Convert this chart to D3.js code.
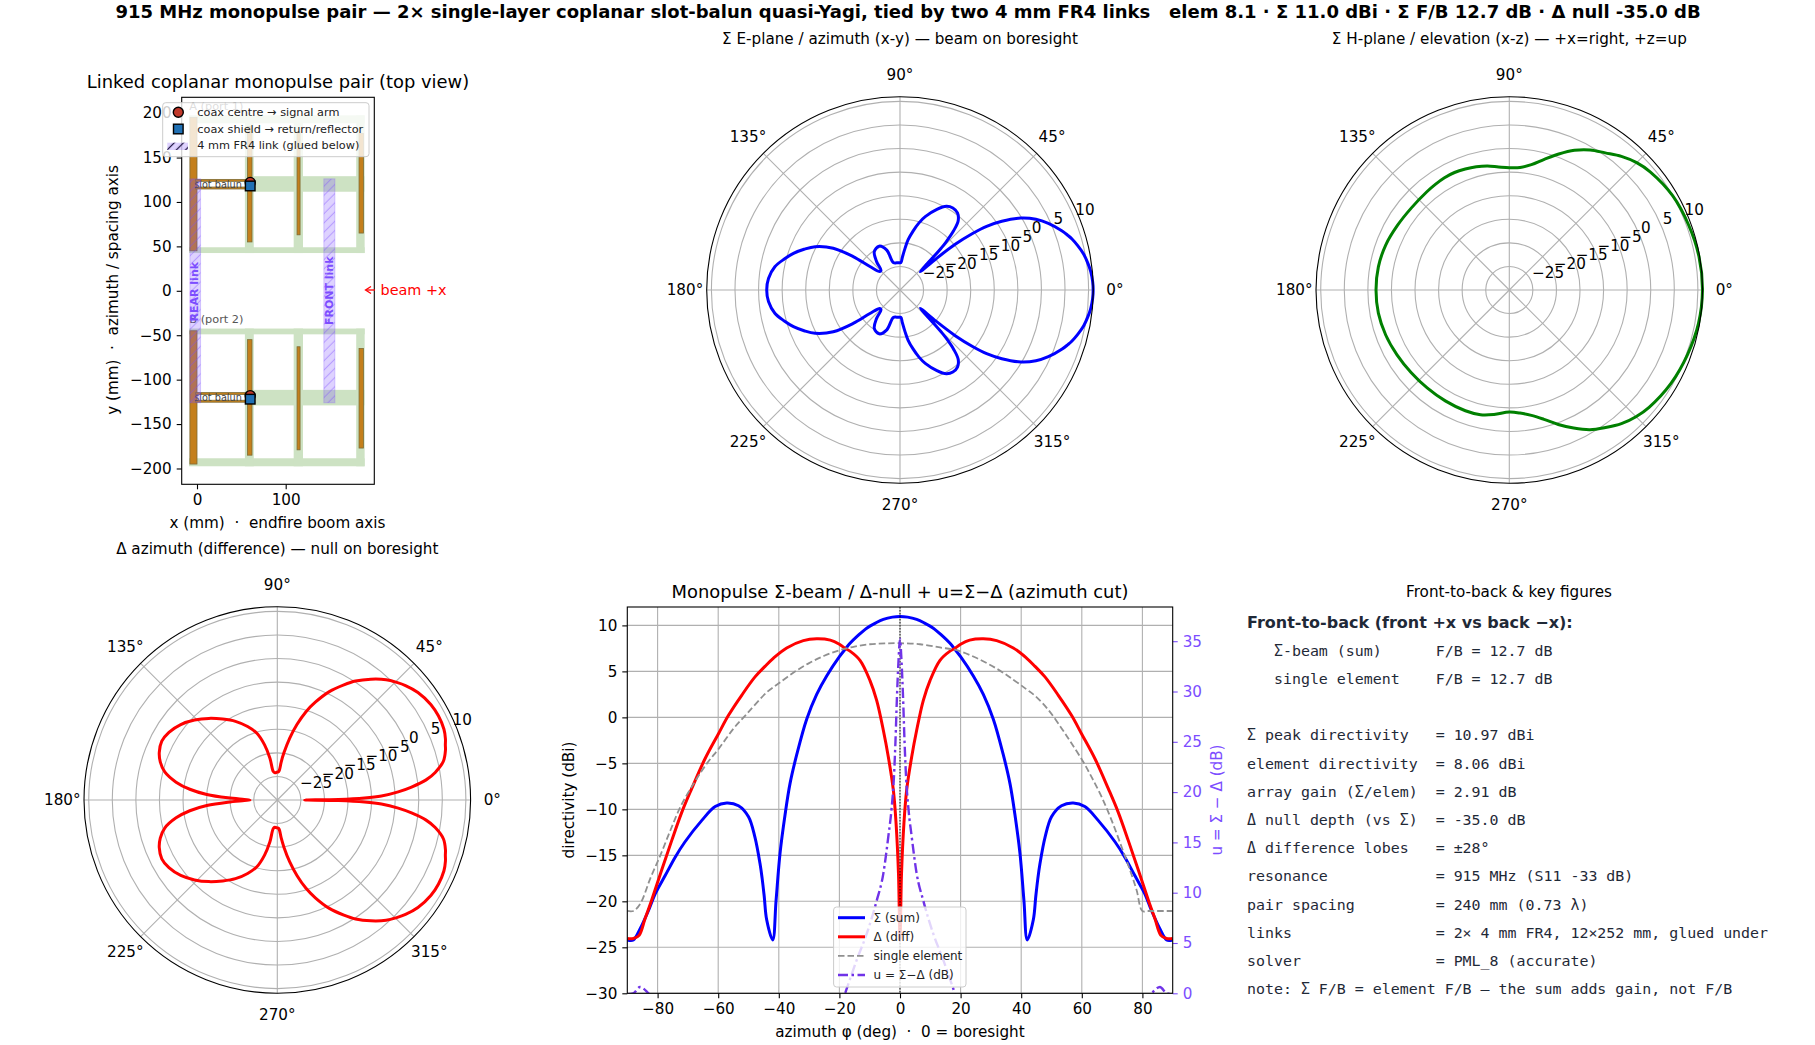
<!DOCTYPE html>
<html>
<head>
<meta charset="utf-8">
<script src="https://cdn.jsdelivr.net/npm/d3@7"></script>
<style>
  html, body { margin: 0; padding: 0; background: #fff; }
  text { font-family: "DejaVu Sans", sans-serif; fill: #000; }
  .grid line, .grid circle { stroke: #b0b0b0; stroke-width: 1.1; fill: none; }
  .domain { stroke: #000; stroke-width: 1.1; }
  .tick line { stroke: #000; stroke-width: 1.1; }
  .tick text { font-size: 15.2px; }
  .mono { font-family: "DejaVu Sans Mono", monospace; font-size: 14.93px; fill: #1f2937; white-space: pre; }
</style>
</head>
<body>
<svg id="chart" width="1815" height="1045"></svg>
<script>
// sum pattern, upper half of the azimuth cut (the cut is mirrored about 0)
const sumPhi = [0, 2.5, 5.5, 8, 11, 14, 16.5, 18, 20, 24.2, 27.5, 30.8, 34, 36.3, 37.9, 39.6, 40.9, 42, 44, 44.8, 45.5, 46.2, 47.9, 50, 53.3, 57.2, 61, 65.4, 71, 74.2, 77.5, 80.8, 83, 85.8, 88, 90, 97, 103.7, 108.4, 115.5, 123.8, 129.5, 134, 137.5, 142, 144.5, 148, 153, 157, 161, 165, 169.5, 175, 180];
const sumDb = [10.97, 10.9, 10.65, 10.27, 9.7, 8.85, 8.05, 7.45, 6.6, 4.5, 2.5, -0.2, -3.95, -7.2, -10.5, -14.8, -19.9, -24.2, -22, -19.5, -17.5, -15.9, -13, -10.8, -9.6, -9.3, -9.7, -11.2, -13.55, -15.2, -17.2, -19.2, -21, -23, -24.2, -24.2, -24.2, -24, -21.1, -19.7, -20.2, -22.2, -24.2, -24.2, -21.9, -17.8, -13.3, -9.8, -7.9, -6.1, -4.6, -3, -2, -1.73];

// difference pattern, same idea
const diffPhi = [0, 0.5, 1.3, 2.2, 3.85, 5.5, 7.7, 9.9, 13.2, 16.5, 18.1, 20, 23, 27.5, 31.9, 37.4, 41.75, 44.55, 47.85, 52.25, 56.65, 59.95, 64.35, 68.75, 72, 75.35, 78.65, 82, 84.15, 86.1, 88, 90, 95, 98, 100, 103, 107, 112, 118, 124, 130, 136, 142, 148, 153, 158, 162, 166, 170, 173, 175.5, 177.5, 179, 180];
const diffDb = [-24.2, -17, -11.5, -7.9, -4.3, -1.4, 1.85, 4, 6.2, 7.2, 7.5, 7.95, 8.4, 8.55, 8.35, 7.55, 6.45, 5.55, 4.4, 2.4, 0.2, -1.8, -4.5, -7.75, -10.3, -13.4, -16.6, -19.9, -21.9, -23.7, -24.05, -24.05, -24.2, -23.9, -21, -18, -15.2, -13.2, -11.1, -9.3, -7.4, -5.6, -4, -2.9, -2.5, -3, -3.9, -5.4, -8.2, -11.3, -15, -19.5, -23, -24.2];

// H-plane elevation cut, not quite symmetric
const elevPhi = [0, 10, 20, 30, 40, 45, 50, 55, 60, 65, 70, 75, 80, 85, 90, 95, 100, 105, 110, 115, 120, 125, 130, 140, 150, 160, 170, 180, 190, 200, 210, 220, 230, 240, 250, 257, 263, 270, 275, 280, 285, 290, 295, 300, 305, 310, 315, 320, 330, 340, 350];
const elevDb = [10.97, 10.85, 10.45, 10, 9, 8.2, 7, 5.5, 4.3, 2.7, 0.7, -1.3, -3, -3.9, -4.05, -3.8, -3.3, -2.95, -2.7, -2.5, -2.5, -2.65, -2.8, -2.9, -2.6, -2.1, -1.8, -1.73, -1.8, -2.1, -2.5, -2.8, -2.9, -2.85, -2.75, -2.85, -3.4, -4.1, -3.8, -3, -1.6, 0.35, 2.3, 4.2, 5.6, 7, 8, 8.7, 9.6, 10.2, 10.75];

// single element, azimuth cut
const elemPhi = [-90, -88, -85.7, -82.4, -79.1, -75.8, -72.5, -68.1, -63.7, -59.8, -54.9, -50.5, -43.9, -40, -35, -30, -25, -20, -15, -10, -5, 0, 6.6, 13.2, 18.7, 25.3, 31.9, 37.4, 41.75, 44.55, 49, 53.35, 56.65, 60.5, 63.25, 66.55, 69.85, 73.15, 75.9, 78.1, 80, 82, 90];
const elemDb = [-21.05, -21.05, -20.25, -17.5, -15, -12.3, -9.75, -7.2, -5, -3.4, -1.2, 0.4, 2.75, 3.7, 4.9, 5.9, 6.7, 7.3, 7.7, 7.95, 8.04, 8.06, 7.95, 7.6, 7.3, 6.45, 5.3, 4.1, 3.05, 2.35, 0.8, -1.2, -2.85, -4.85, -6.5, -8.65, -11.2, -14.1, -16.6, -18.8, -21.05, -21.05, -21.05];

// u = sum - diff on the right axis, mirrored about 0
const uPhi = [0, 0.5, 1, 1.5, 2, 2.8, 3.85, 5.5, 7.7, 11, 14.3, 18.1, 20, 30, 42, 56.5, 70, 76, 80, 83, 85.8, 88, 90];
const uDb = [35.2, 33, 29.5, 25, 21.5, 18.3, 15.6, 11.9, 9.2, 5.9, 3.3, 0, -1.7, -8, -30, -8, -3.9, -2, -1, 0, 0.63, 0, -0.1];

// top view geometry in mm: x0, x1, y0, y1 for one element centred on +y
const substrateBars = [[-9, 189, 42.5, 49], [-9, 189, 188.5, 197.5], [54, 189, 111.5, 129], [54, 64, 42.5, 197.5], [109, 119.5, 42.5, 197.5], [179.5, 189, 42.5, 197.5]];
const upperCopper = [[-8, 0, 45, 195], [57, 62, 55, 185], [112.8, 116.2, 63, 179], [182.7, 187.6, 65, 177], [-1.5, 56, 114.6, 116.8], [-1.5, 56, 123.2, 125.4]];
const linkRects = [[-8, 4, -126, 126], [143, 155.5, -126, 126]];
const feedX = 60;
const feedCircleY = [122, -118];
const feedSquareY = [118, -122];

const thetaTicks = [0, 45, 90, 135, 180, 225, 270, 315];
const rTicks = [-25, -20, -15, -10, -5, 0, 5, 10];
const dirTicks = [-30, -25, -20, -15, -10, -5, 0, 5, 10];
const uTicks = [0, 5, 10, 15, 20, 25, 30, 35];
const phiTicks = [-80, -60, -40, -20, 0, 20, 40, 60, 80];

const keyLines = [
  "   \u03a3-beam (sum)      F/B = 12.7 dB",
  "   single element    F/B = 12.7 dB",
  "",
  "\u03a3 peak directivity   = 10.97 dBi",
  "element directivity  = 8.06 dBi",
  "array gain (\u03a3/elem)  = 2.91 dB",
  "\u0394 null depth (vs \u03a3)  = -35.0 dB",
  "\u0394 difference lobes   = \u00b128\u00b0",
  "resonance            = 915 MHz (S11 -33 dB)",
  "pair spacing         = 240 mm (0.73 \u03bb)",
  "links                = 2\u00d7 4 mm FR4, 12\u00d7252 mm, glued under",
  "solver               = PML_8 (accurate)",
  "note: \u03a3 F/B = element F/B \u2014 the sum adds gain, not F/B"
];

const purple = "#7c4dff";
const svg = d3.select("#chart");

function addText(parent, x, y, str, size, opts) {
  opts = opts || {};
  let t = parent.append("text")
    .attr("x", x).attr("y", y)
    .attr("font-size", size)
    .attr("text-anchor", opts.anchor || "middle")
    .text(str);
  if (opts.weight) t.attr("font-weight", opts.weight);
  if (opts.fill) t.style("fill", opts.fill);
  if (opts.opacity) t.attr("opacity", opts.opacity);
  if (opts.rotate) t.attr("transform", "rotate(" + opts.rotate + " " + x + " " + y + ")");
  return t;
}

// hatch for the FR4 links
let defs = svg.append("defs");
defs.append("pattern").attr("id", "hatch").attr("width", 6.5).attr("height", 6.5)
  .attr("patternUnits", "userSpaceOnUse").attr("patternTransform", "rotate(-45)")
  .append("line").attr("x1", 0).attr("x2", 6.5).attr("y1", 3.2).attr("y2", 3.2)
  .attr("stroke", purple).attr("stroke-opacity", 0.4).attr("stroke-width", 1.1);
defs.append("pattern").attr("id", "hatchLegend").attr("width", 6.5).attr("height", 6.5)
  .attr("patternUnits", "userSpaceOnUse").attr("patternTransform", "rotate(-45)")
  .append("line").attr("x1", 0).attr("x2", 6.5).attr("y1", 3.2).attr("y2", 3.2)
  .attr("stroke", "#1a1040").attr("stroke-width", 1.2);

addText(svg, 908, 18, "915 MHz monopulse pair \u2014 2\u00d7 single-layer coplanar slot-balun quasi-Yagi, tied by two 4 mm FR4 links   elem 8.1 \u00b7 \u03a3 11.0 dBi \u00b7 \u03a3 F/B 12.7 dB \u00b7 \u0394 null -35.0 dB", 18, { weight: "bold" })
  .style("white-space", "pre");

function mirrorClosed(phi, db) {
  // go round from 0 to 180 and back down the lower half
  let pts = phi.map((p, i) => [p, db[i]]);
  for (let i = phi.length - 2; i > 0; i--) pts.push([360 - phi[i], db[i]]);
  return pts;
}

function polarPanel(cx, cy, title, titleY, pts, color) {
  let g = svg.append("g").attr("transform", "translate(" + cx + "," + cy + ")");
  let R = 193.3;
  let r = d3.scaleLinear().domain([-30, 11]).range([0, R]);
  let angle = d3.scaleLinear().domain([0, 360]).range([Math.PI / 2, Math.PI / 2 - 2 * Math.PI]);
  let grid = g.append("g").attr("class", "grid");
  grid.selectAll("circle").data(rTicks).enter().append("circle").attr("r", d => r(d));
  grid.selectAll("line").data(thetaTicks).enter().append("line")
    .attr("x2", d => R * Math.cos(d * Math.PI / 180))
    .attr("y2", d => -R * Math.sin(d * Math.PI / 180));
  let line = d3.lineRadial()
    .angle(d => angle(d[0]))
    .radius(d => r(d[1]))
    .curve(d3.curveCatmullRomClosed.alpha(0.5));
  g.append("path").attr("d", line(pts)).attr("fill", "none").attr("stroke", color).attr("stroke-width", 3);
  g.append("circle").attr("r", R).attr("fill", "none").attr("stroke", "#000").attr("stroke-width", 1.1);
  thetaTicks.forEach(function(d) {
    let a = d * Math.PI / 180;
    addText(g, 215 * Math.cos(a), -215 * Math.sin(a) + 4.5, d + "\u00b0", 15.2);
  });
  let la = 22.5 * Math.PI / 180;
  rTicks.forEach(function(d) {
    addText(g, r(d) * Math.cos(la) + 1, -r(d) * Math.sin(la) - 3, d3.format("d")(d), 15.2, { anchor: "start" });
  });
  addText(svg, cx, titleY, title, 15.2);
}

function topView() {
  let x0 = 181.7, x1 = 374.3, y0 = 97.3, y1 = 484.3;
  let x = d3.scaleLinear().domain([-17.25, 199.9]).range([x0, x1]);
  let y = d3.scaleLinear().domain([-217.8, 217.8]).range([y1, y0]);
  let g = svg.append("g");
  addText(svg, 278, 88, "Linked coplanar monopulse pair (top view)", 17.9);

  function rects(parent, list, sign) {
    return parent.selectAll(null).data(list).enter().append("rect")
      .attr("x", d => x(d[0]))
      .attr("width", d => x(d[1]) - x(d[0]))
      .attr("y", d => sign > 0 ? y(d[3]) : y(-d[2]))
      .attr("height", d => y(d[2]) - y(d[3]));
  }
  [1, -1].forEach(function(sign) {
    rects(g, substrateBars, sign).attr("fill", "#cde2c3");
    rects(g, upperCopper, sign).attr("fill", "#c47f1c").attr("stroke", "#7d6a33").attr("stroke-width", 0.8);
  });
  addText(g, 189.3, y(208) + 4, "A (port 1)", 11.3, { anchor: "start", fill: "#555" });
  addText(g, 189.3, y(-32) + 4, "B (port 2)", 11.3, { anchor: "start", fill: "#555" });
  [120, -120].forEach(function(c) {
    addText(g, 218, y(c) + 3.5, "slot balun", 9.7, { fill: "#444" });
  });
  // links sit on top of the elements
  let links = g.selectAll(null).data(linkRects).enter().append("g");
  links.append("rect")
    .attr("x", d => x(d[0])).attr("width", d => x(d[1]) - x(d[0]))
    .attr("y", d => y(d[3])).attr("height", d => y(d[2]) - y(d[3]))
    .attr("fill", purple).attr("fill-opacity", 0.25).attr("stroke", purple).attr("stroke-opacity", 0.25).attr("stroke-width", 1);
  links.append("rect")
    .attr("x", d => x(d[0])).attr("width", d => x(d[1]) - x(d[0]))
    .attr("y", d => y(d[3])).attr("height", d => y(d[2]) - y(d[3]))
    .attr("fill", "url(#hatch)");
  addText(g, x(-3), y(-1), "REAR link", 11, { weight: "bold", fill: purple, rotate: -90 }).attr("dy", "0.35em");
  addText(g, x(149), y(0), "FRONT link", 11, { weight: "bold", fill: purple, rotate: -90 }).attr("dy", "0.35em");

  g.selectAll(null).data(feedCircleY).enter().append("circle")
    .attr("cx", x(feedX)).attr("cy", d => y(d)).attr("r", 5)
    .attr("fill", "#c0392b").attr("stroke", "#000").attr("stroke-width", 1.4);
  g.selectAll(null).data(feedSquareY).enter().append("rect")
    .attr("x", x(feedX) - 4.8).attr("y", d => y(d) - 4.8).attr("width", 9.6).attr("height", 9.6)
    .attr("fill", "#2070b4").attr("stroke", "#000").attr("stroke-width", 1.4);

  let ax = g.append("g").attr("transform", "translate(0," + y1 + ")").call(d3.axisBottom(x).tickValues([0, 100]).tickSize(5).tickPadding(5).tickSizeOuter(0));
  let ay = g.append("g").attr("transform", "translate(" + x0 + ",0)").call(d3.axisLeft(y).tickValues([-200, -150, -100, -50, 0, 50, 100, 150, 200]).tickSize(5).tickPadding(5).tickSizeOuter(0));
  ax.select(".domain").remove();
  ay.select(".domain").remove();
  g.append("rect").attr("x", x0).attr("y", y0).attr("width", x1 - x0).attr("height", y1 - y0)
    .attr("fill", "none").attr("stroke", "#000").attr("stroke-width", 1.1);

  addText(svg, 277.5, 528, "x (mm)  \u00b7  endfire boom axis", 15.2).style("white-space", "pre");
  addText(svg, 118, 290, "y (mm)  \u00b7  azimuth / spacing axis", 15.2, { rotate: -90 }).style("white-space", "pre");

  // beam arrow
  g.append("line").attr("x1", 375).attr("x2", 366).attr("y1", 290).attr("y2", 290).attr("stroke", "red").attr("stroke-width", 1.3);
  g.append("path").attr("d", "M371,286.5 L365.5,290 L371,293.5").attr("fill", "none").attr("stroke", "red").attr("stroke-width", 1.3);
  addText(svg, 380.5, 295, "beam +x", 14.4, { anchor: "start", fill: "red" });

  // legend
  let lg = svg.append("g");
  lg.append("rect").attr("x", 162.7).attr("y", 102.7).attr("width", 206.3).attr("height", 54).attr("rx", 3)
    .attr("fill", "#fff").attr("fill-opacity", 0.8).attr("stroke", "#ccc").attr("stroke-width", 1);
  lg.append("circle").attr("cx", 178.3).attr("cy", 112.3).attr("r", 5).attr("fill", "#c0392b").attr("stroke", "#000").attr("stroke-width", 1.4);
  lg.append("rect").attr("x", 173.5).attr("y", 124.2).attr("width", 9.6).attr("height", 9.6).attr("fill", "#2070b4").attr("stroke", "#000").attr("stroke-width", 1.4);
  lg.append("rect").attr("x", 167.3).attr("y", 142.7).attr("width", 20.7).attr("height", 7.3).attr("fill", purple).attr("fill-opacity", 0.25);
  lg.append("rect").attr("x", 167.3).attr("y", 142.7).attr("width", 20.7).attr("height", 7.3).attr("fill", "url(#hatchLegend)");
  ["coax centre \u2192 signal arm", "coax shield \u2192 return/reflector", "4 mm FR4 link (glued below)"].forEach(function(s, i) {
    addText(lg, 197.3, 116 + i * 16.7, s, 11.27, { anchor: "start", fill: "#222" });
  });
}

function cartPanel() {
  let x0 = 627.3, x1 = 1172.7, y0 = 607, y1 = 993.3;
  let x = d3.scaleLinear().domain([-90, 90]).range([x0, x1]);
  let y = d3.scaleLinear().domain([-30, 12]).range([y1, y0]);
  let yu = d3.scaleLinear().domain([0, 38.4]).range([y1, y0]);
  let g = svg.append("g");
  addText(svg, 900, 598, "Monopulse \u03a3-beam / \u0394-null + u=\u03a3\u2212\u0394 (azimuth cut)", 17.9);
  svg.select("defs").append("clipPath").attr("id", "plotClip").append("rect")
    .attr("x", x0).attr("y", y0).attr("width", x1 - x0).attr("height", y1 - y0);

  let grid = g.append("g").attr("class", "grid");
  grid.selectAll(null).data(phiTicks).enter().append("line")
    .attr("x1", d => x(d)).attr("x2", d => x(d)).attr("y1", y0).attr("y2", y1);
  grid.selectAll(null).data(dirTicks).enter().append("line")
    .attr("x1", x0).attr("x2", x1).attr("y1", d => y(d)).attr("y2", d => y(d));

  function both(phi, db, limit) {
    // build the -90..90 cut from the half arrays
    let right = [];
    phi.forEach((p, i) => { if (p <= limit) right.push([p, db[i]]); });
    let left = right.slice(1).map(d => [-d[0], d[1]]).reverse();
    return left.concat(right);
  }
  let plot = g.append("g").attr("clip-path", "url(#plotClip)");
  let line = d3.line().x(d => x(d[0])).y(d => y(d[1])).curve(d3.curveCatmullRom.alpha(0.5));
  let lineU = d3.line().x(d => x(d[0])).y(d => yu(d[1])).curve(d3.curveMonotoneX);
  plot.append("path").attr("d", line(both(sumPhi, sumDb, 90))).attr("fill", "none").attr("stroke", "blue").attr("stroke-width", 3);
  plot.append("path").attr("d", line(both(diffPhi, diffDb, 90))).attr("fill", "none").attr("stroke", "red").attr("stroke-width", 3);
  plot.append("path").attr("d", line(elemPhi.map((p, i) => [p, elemDb[i]]))).attr("fill", "none")
    .attr("stroke", "#909090").attr("stroke-width", 1.8).attr("stroke-dasharray", "6.5,3");
  plot.append("line").attr("x1", x(0)).attr("x2", x(0)).attr("y1", y0).attr("y2", y1)
    .attr("stroke", "#000").attr("stroke-width", 0.9).attr("stroke-dasharray", "1.5,1.5");
  plot.append("path").attr("d", lineU(both(uPhi, uDb, 90))).attr("fill", "none")
    .attr("stroke", "#7033e8").attr("stroke-width", 2.4).attr("stroke-dasharray", "10,3.5,2.5,3.5");

  let ax = g.append("g").attr("transform", "translate(0," + y1 + ")").call(d3.axisBottom(x).tickValues(phiTicks).tickSize(5).tickPadding(5).tickSizeOuter(0));
  let ay = g.append("g").attr("transform", "translate(" + x0 + ",0)").call(d3.axisLeft(y).tickValues(dirTicks).tickSize(5).tickPadding(5).tickSizeOuter(0));
  let au = g.append("g").attr("transform", "translate(" + x1 + ",0)").call(d3.axisRight(yu).tickValues(uTicks).tickSize(5).tickPadding(5).tickSizeOuter(0));
  ax.select(".domain").remove();
  ay.select(".domain").remove();
  au.select(".domain").remove();
  au.selectAll(".tick line").style("stroke", purple);
  au.selectAll(".tick text").style("fill", purple);
  g.append("rect").attr("x", x0).attr("y", y0).attr("width", x1 - x0).attr("height", y1 - y0)
    .attr("fill", "none").attr("stroke", "#000").attr("stroke-width", 1.1);

  addText(svg, 900, 1037, "azimuth \u03c6 (deg)  \u00b7  0 = boresight", 15.2).style("white-space", "pre");
  addText(svg, 574, 800, "directivity (dBi)", 15.2, { rotate: -90 });
  addText(svg, 1222, 800, "u = \u03a3 \u2212 \u0394 (dB)", 15.2, { rotate: -90, fill: purple });

  // legend
  let lg = svg.append("g");
  lg.append("rect").attr("x", 833.6).attr("y", 907).attr("width", 132.4).attr("height", 80).attr("rx", 3)
    .attr("fill", "#fff").attr("fill-opacity", 0.8).attr("stroke", "#ccc").attr("stroke-width", 1);
  let entries = [
    ["\u03a3 (sum)", "blue", 3, null],
    ["\u0394 (diff)", "red", 3, null],
    ["single element", "#909090", 1.8, "6.5,3"],
    ["u = \u03a3\u2212\u0394 (dB)", "#7033e8", 2.4, "10,3.5,2.5,3.5"]
  ];
  entries.forEach(function(e, i) {
    let yy = 917.7 + i * 19.1;
    let l = lg.append("line").attr("x1", 838).attr("x2", 865).attr("y1", yy).attr("y2", yy)
      .attr("stroke", e[1]).attr("stroke-width", e[2]);
    if (e[3]) l.attr("stroke-dasharray", e[3]);
    addText(lg, 873.5, yy + 4.4, e[0], 12, { anchor: "start", fill: "#222" });
  });
}

function keyPanel() {
  addText(svg, 1509, 597, "Front-to-back & key figures", 15.2);
  addText(svg, 1247, 628, "Front-to-back (front +x vs back \u2212x):", 16, { anchor: "start", weight: "bold", fill: "#1f2937" });
  keyLines.forEach(function(s, i) {
    if (s === "") return;
    svg.append("text").attr("class", "mono").attr("x", 1247).attr("y", 655.7 + i * 28.2).text(s);
  });
}

topView();
polarPanel(900, 290, "\u03a3 E-plane / azimuth (x-y) \u2014 beam on boresight", 44, mirrorClosed(sumPhi, sumDb), "blue");
polarPanel(1509.3, 290, "\u03a3 H-plane / elevation (x-z) \u2014 +x=right, +z=up", 44, elevPhi.map((p, i) => [p, elevDb[i]]), "green");
polarPanel(277.3, 800, "\u0394 azimuth (difference) \u2014 null on boresight", 554, mirrorClosed(diffPhi, diffDb), "red");
cartPanel();
keyPanel();
</script>
</body>
</html>
